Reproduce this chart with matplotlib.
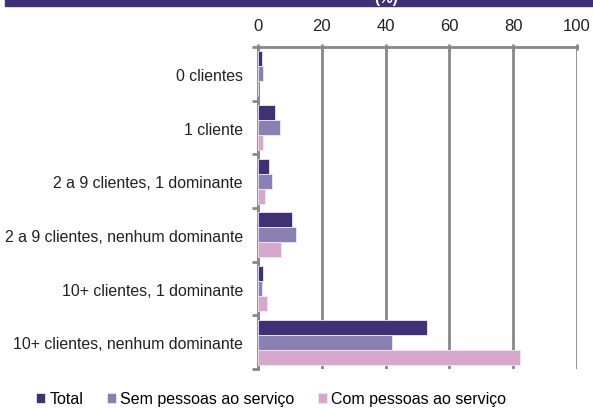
import numpy as np
import matplotlib
matplotlib.use("Agg")
import matplotlib.pyplot as plt
from matplotlib.patches import Rectangle

plt.rcParams['font.family'] = ['Liberation Sans', 'DejaVu Sans']

categories = ["0 clientes", "1 cliente", "2 a 9 clientes, 1 dominante",
              "2 a 9 clientes, nenhum dominante", "10+ clientes, 1 dominante",
              "10+ clientes, nenhum dominante"]
series = ["Total", "Sem pessoas ao serviço", "Com pessoas ao serviço"]
total = [1.2, 5.4, 3.6, 10.7, 1.7, 53.0]
sem = [1.5, 6.8, 4.3, 12.0, 1.2, 42.0]
com = [0.0, 1.7, 2.2, 7.3, 2.7, 82.2]
colors = ["#3f3274", "#8b80b2", "#d8a8cc"]

fig = plt.figure(figsize=(5.93, 4.10), dpi=100)
ax = fig.add_axes([0.435, 0.0976, 0.538, 0.785])

# header band (title mostly cut off in the original)
fig.patches.append(Rectangle((5/593, 1 - 7/410), 1, 7/410, transform=fig.transFigure,
                             color="#3f3274", zorder=0))
fig.text(398/593, 1 - 3/410, "(%)", color="white", fontsize=11, fontweight="bold",
         ha="right", va="baseline")

y = np.arange(len(categories))
h = 0.28
for i, (vals, c) in enumerate(zip([total, sem, com], colors)):
    ax.barh(y + (i - 1) * h, vals, height=h, color=c, edgecolor="#ece8f4",
            linewidth=0.6, label=series[i], zorder=3)

ax.set_xlim(0, 100)
ax.set_ylim(len(categories) - 0.5, -0.5)
ax.set_xticks(np.arange(0, 101, 20))
ax.xaxis.tick_top()
ax.grid(axis="x", color="#888888", linewidth=2, zorder=0)
ax.set_yticks(y)
ax.set_yticklabels(categories)
ax.set_yticks(np.arange(-0.5, len(categories), 1), minor=True)
ax.tick_params(axis="y", which="major", length=0, pad=10.8, labelsize=11.4, colors="#222222")
ax.tick_params(axis="y", which="minor", length=4, width=2, color="#888888")
ax.tick_params(axis="x", length=4, width=2, color="#888888", labelsize=12,
               labelcolor="#222222", pad=8, direction="inout")
for s in ["right", "bottom"]:
    ax.spines[s].set_visible(False)
for s in ["top", "left"]:
    ax.spines[s].set_color("#888888")
    ax.spines[s].set_linewidth(2)

fig.legend(loc="center", bbox_to_anchor=(0.457, 10/410), ncol=3, frameon=False,
           fontsize=11.5, handlelength=0.6, handleheight=0.6, handletextpad=0.25,
           columnspacing=1.45, borderpad=0)

fig.savefig("out.png", dpi=100)
